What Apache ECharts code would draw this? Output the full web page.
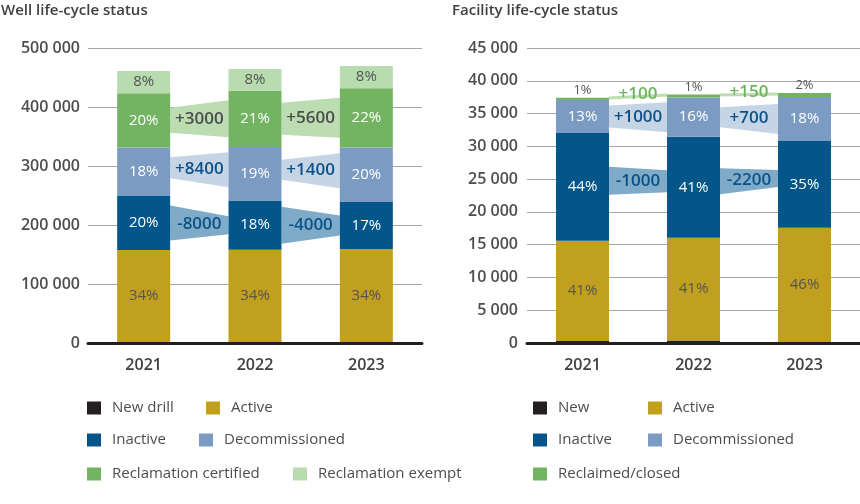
<!DOCTYPE html>
<html><head><meta charset="utf-8">
<script src="https://cdn.jsdelivr.net/npm/echarts@6/dist/echarts.min.js"></script>
<style>html,body{margin:0;padding:0;background:#fff}#c{width:860px;height:504px}</style>
</head><body><div id="c"></div>
<script>
// ---------- DATA ----------
const years = ['2021', '2022', '2023'];

// Well life-cycle status (number of wells)
const wellNewDrill = [1500, 1500, 1500];
const wellActive = [156000, 156500, 158000];
const wellInactive = [91500, 83500, 79500];
const wellDecommissioned = [82500, 90900, 92300];
const wellReclCertified = [92000, 95000, 100600];
const wellReclExempt = [37500, 37000, 37500];
const wellActivePct = ['34%', '34%', '34%'];
const wellInactivePct = ['20%', '18%', '17%'];
const wellDecomPct = ['18%', '19%', '20%'];
const wellCertPct = ['20%', '21%', '22%'];
const wellExemptPct = ['8%', '8%', '8%'];
const wellInactiveChange = [-8000, -4000];
const wellDecomChange = [8400, 1400];
const wellCertChange = [3000, 5600];

// Facility life-cycle status (number of facilities)
const facNew = [300, 400, 150];
const facActive = [15300, 15650, 17420];
const facInactive = [16450, 15400, 13250];
const facDecommissioned = [5000, 6000, 6700];
const facReclaimed = [350, 450, 600];
const facActivePct = ['41%', '41%', '46%'];
const facInactivePct = ['44%', '41%', '35%'];
const facDecomPct = ['13%', '16%', '18%'];
const facReclaimedPct = ['1%', '1%', '2%'];
const facInactiveChange = [-1000, -2200];
const facDecomChange = [1000, 700];
const facReclaimedChange = [100, 150];

// ---------- STYLE ----------
const C = {
  new: '#231f20', active: '#c19f1f', inactive: '#02568a', decom: '#7b9bc3',
  cert: '#72b462', exempt: '#b8dbb0',
  bandInactive: '#7faac8', bandDecom: '#c6d5e6', bandCert: '#bcdcb2',
  darkText: '#555555', blueText: '#0b5288', greenText: '#6cb65a'
};
const FONT = '"Open Sans", "Noto Sans", sans-serif';
const BAR_W = 53;

const fmtThousands = v => String(v).replace(/\B(?=(\d{3})+(?!\d))/g, ' ');
const fmtChange = v => (v > 0 ? '+' : '-') + Math.abs(v);

function barSeries(name, data, color, stack, gi, pct, labelColor, extra) {
  const s = {
    name, type: 'bar', stack, xAxisIndex: gi, yAxisIndex: gi, barWidth: BAR_W,
    itemStyle: { color }, z: 3, silent: true,
    data: data.slice(),
    label: pct ? {
      show: true, position: 'inside', fontFamily: FONT, fontSize: 15,
      color: labelColor, formatter: p => pct[p.dataIndex]
    } : { show: false }
  };
  return Object.assign(s, extra || {});
}

function bandSeries(gi, stacks, bands) {
  const data = [];
  bands.forEach((b, bi) => { for (let i = 0; i < 2; i++) data.push([i, 0, bi]); });
  return {
    type: 'custom', xAxisIndex: gi, yAxisIndex: gi, z: 1, silent: true,
    encode: { x: 0, y: 1 }, data,
    renderItem(params, api) {
      const i = api.value(0), bi = api.value(2);
      const b = bands[bi];
      const mid = k => {
        let base = 0;
        for (let s = 0; s < b.layer; s++) base += stacks[s][k];
        return base + stacks[b.layer][k] / 2;
      };
      const p0 = api.coord([i, mid(i)]), p1 = api.coord([i + 1, mid(i + 1)]);
      const x0 = p0[0] + BAR_W / 2, x1 = p1[0] - BAR_W / 2;
      const h0 = b.h[i][0], h1 = b.h[i][1];
      const dy = b.dy || 0;
      const y0 = p0[1] + dy, y1 = p1[1] + dy;
      return {
        type: 'group', children: [
          { type: 'polygon', shape: { points: [[x0, y0 - h0 / 2], [x1, y1 - h1 / 2], [x1, y1 + h1 / 2], [x0, y0 + h0 / 2]] },
            style: { fill: b.fill } },
          { type: 'text', x: (x0 + x1) / 2, y: (y0 + y1) / 2 + (b.ty || 0),
            style: { text: fmtChange(b.change[i]), fill: b.color, font: '600 17px ' + FONT,
                     align: 'center', verticalAlign: 'middle' } }
        ]
      };
    }
  };
}

const wellStacks = [wellNewDrill, wellActive, wellInactive, wellDecommissioned, wellReclCertified, wellReclExempt];
const facStacks = [facNew, facActive, facInactive, facDecommissioned, facReclaimed];

function legendItem(name, left, top) {
  return {
    data: [name], left, top, orient: 'horizontal', padding: 0,
    itemWidth: 14, itemHeight: 13, icon: 'rect', selectedMode: false,
    textStyle: { fontFamily: FONT, fontSize: 15, color: '#4d4d4d', padding: [0, 0, 0, 6], lineHeight: 16 }
  };
}

const axisLabelStyle = { fontFamily: FONT, fontSize: 16, fontWeight: 600, color: '#4d4d4d' };

const option = {
  animation: false,
  backgroundColor: '#fff',
  title: [
    { text: 'Well life-cycle status', left: 1, top: 3, padding: 0,
      textStyle: { fontFamily: FONT, fontSize: 15, fontWeight: 600, color: '#404040' } },
    { text: 'Facility life-cycle status', left: 452, top: 3, padding: 0,
      textStyle: { fontFamily: FONT, fontSize: 15, fontWeight: 600, color: '#404040' } }
  ],
  grid: [
    { left: 88, top: 48, width: 334, height: 295 },
    { left: 527, top: 48, width: 333, height: 295 }
  ],
  xAxis: [0, 1].map(gi => ({
    type: 'category', gridIndex: gi, data: years,
    axisLine: { lineStyle: { color: '#231f20', width: 3 } },
    axisTick: { show: false },
    axisLabel: Object.assign({ margin: 14 }, axisLabelStyle, { color: '#404040' })
  })),
  yAxis: [
    { type: 'value', gridIndex: 0, min: 0, max: 500000, interval: 100000,
      axisLine: { show: false }, axisTick: { show: false },
      splitLine: { lineStyle: { color: '#a6a6a6', width: 1 } },
      axisLabel: Object.assign({ margin: 8, formatter: fmtThousands }, axisLabelStyle) },
    { type: 'value', gridIndex: 1, min: 0, max: 45000, interval: 5000,
      axisLine: { show: false }, axisTick: { show: false },
      splitLine: { lineStyle: { color: '#a6a6a6', width: 1 } },
      axisLabel: Object.assign({ margin: 9, formatter: fmtThousands }, axisLabelStyle) }
  ],
  legend: [
    legendItem('New drill', 87, 400), legendItem('Active', 206, 400),
    legendItem('Inactive', 87, 432), legendItem('Decommissioned', 199, 432),
    legendItem('Reclamation certified', 87, 466), legendItem('Reclamation exempt', 293, 466),
    legendItem('New', 533, 400), legendItem('Active', 648, 400),
    legendItem('Inactive', 533, 432), legendItem('Decommissioned', 648, 432),
    legendItem('Reclaimed/closed', 533, 466)
  ],
  series: [
    barSeries('New drill', wellNewDrill, C.new, 'w', 0, null),
    barSeries('Active', wellActive, C.active, 'w', 0, wellActivePct, C.darkText),
    barSeries('Inactive', wellInactive, C.inactive, 'w', 0, wellInactivePct, '#fff'),
    barSeries('Decommissioned', wellDecommissioned, C.decom, 'w', 0, wellDecomPct, '#fff'),
    barSeries('Reclamation certified', wellReclCertified, C.cert, 'w', 0, wellCertPct, '#fff'),
    barSeries('Reclamation exempt', wellReclExempt, C.exempt, 'w', 0, wellExemptPct, C.darkText),
    bandSeries(0, wellStacks, [
      { layer: 2, change: wellInactiveChange, fill: C.bandInactive, color: C.blueText, h: [[35, 18], [37, 20]] },
      { layer: 3, change: wellDecomChange, fill: C.bandDecom, color: C.blueText, h: [[21, 35], [20, 35]], dy: -4 },
      { layer: 4, change: wellCertChange, fill: C.bandCert, color: '#4d4d4d', h: [[25, 37], [32, 40]] }
    ]),
    barSeries('New', facNew, C.new, 'f', 1, null),
    barSeries('Active', facActive, C.active, 'f', 1, facActivePct, C.darkText),
    barSeries('Inactive', facInactive, C.inactive, 'f', 1, facInactivePct, '#fff'),
    barSeries('Decommissioned', facDecommissioned, C.decom, 'f', 1, facDecomPct, '#fff'),
    barSeries('Reclaimed/closed', facReclaimed, C.cert, 'f', 1, null, null, {
      label: { show: true, position: 'top', distance: 1, fontFamily: FONT, fontSize: 13,
               color: C.darkText, formatter: p => facReclaimedPct[p.dataIndex] }
    }),
    bandSeries(1, facStacks, [
      { layer: 2, change: facInactiveChange, fill: C.bandInactive, color: C.blueText, h: [[28, 22], [26, 17]], dy: -6 },
      { layer: 3, change: facDecomChange, fill: C.bandDecom, color: C.blueText, h: [[22, 30], [20, 30]] },
      { layer: 4, change: facReclaimedChange, fill: C.bandCert, color: C.greenText, h: [[3, 3], [3, 3]], dy: -1, ty: -2 }
    ])
  ]
};

const chart = echarts.init(document.getElementById('c'), null, { renderer: 'canvas' });
chart.setOption(option);
</script>
</body></html>
